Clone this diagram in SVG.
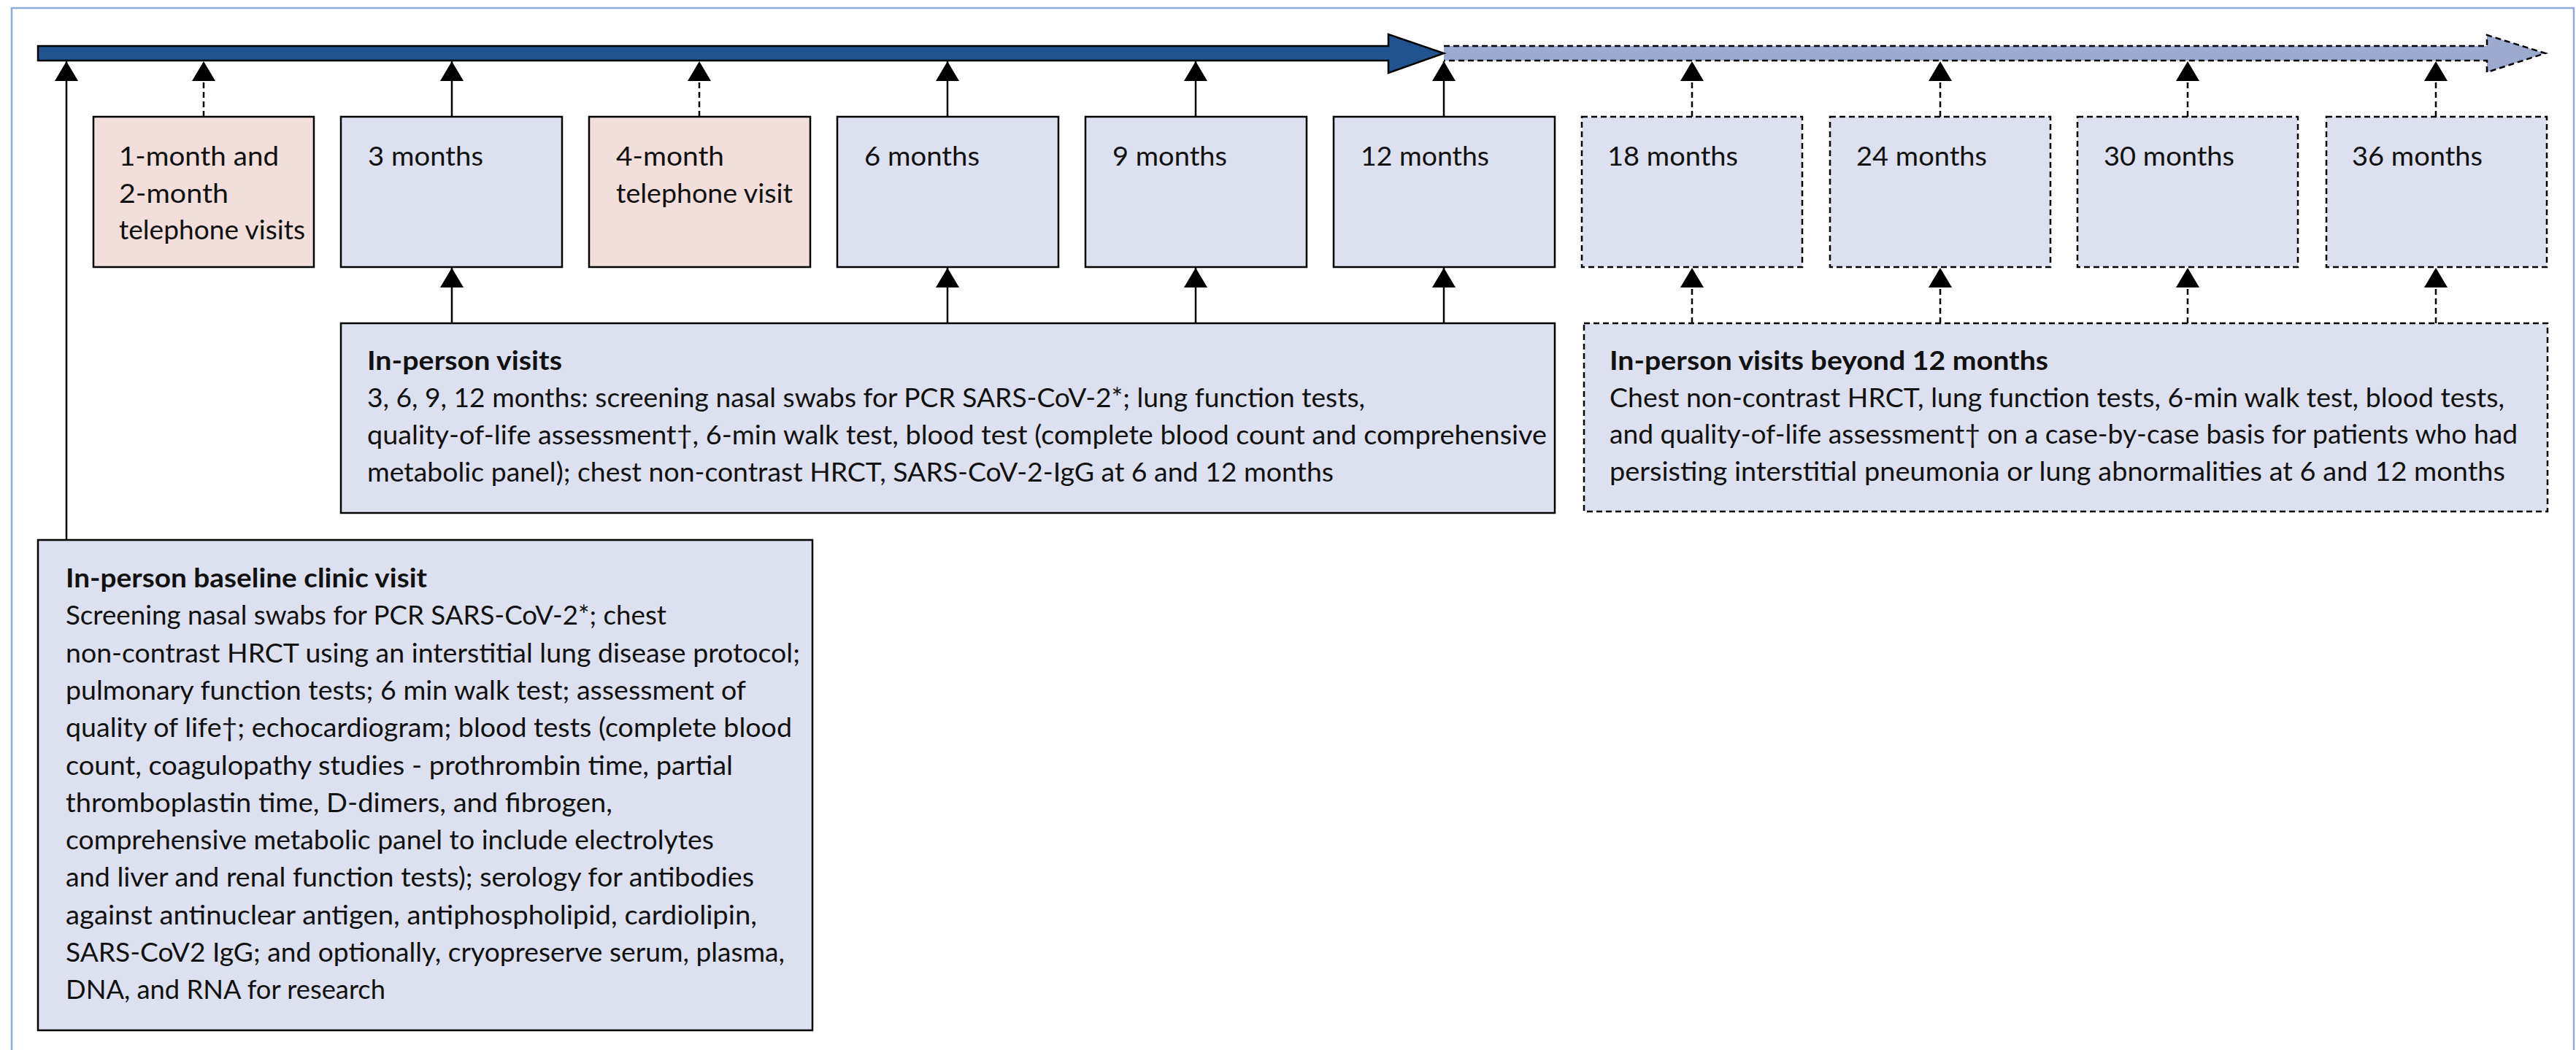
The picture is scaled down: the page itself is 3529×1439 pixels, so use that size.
<svg xmlns="http://www.w3.org/2000/svg" width="3529" height="1439" viewBox="0 0 3529 1439">
<style>
text{font-family:Lato,"Noto Sans","Liberation Sans",sans-serif;font-size:37px;fill:#111}
.b{font-weight:bold}
.box{fill:#dde0ef;stroke:#000;stroke-width:2.5}
.pink{fill:#f2dfdc;stroke:#000;stroke-width:2.5}
.dbox{fill:#dde0ef;stroke:#000;stroke-width:2.5;stroke-dasharray:8 5}
.c{stroke:#000;stroke-width:2.5;fill:none;marker-end:url(#ah)}
.cd{stroke:#000;stroke-width:2.5;fill:none;stroke-dasharray:8 5;marker-end:url(#ah)}
</style>
<defs>
<marker id="ah" viewBox="0 0 27 32" refX="27" refY="16" markerWidth="27" markerHeight="32" markerUnits="userSpaceOnUse" orient="auto"><path d="M0,0 L27,16 L0,32 Z" fill="#000"/></marker>
</defs>
<rect x="0" y="0" width="3529" height="1439" fill="#fff"/>
<rect id="frame" x="16" y="11" width="3510" height="1460" fill="none" stroke="#8eaad8" stroke-width="2.5"/>

<g id="timeline">
<path d="M1978,63 L3407,63 L3407,48 L3487,73 L3407,99 L3407,83 L1978,83" fill="#9daad0" stroke="#000" stroke-width="2.5" stroke-dasharray="8 5"/>
<path d="M52,63 L1902,63 L1902,47 L1978,73 L1902,100 L1902,83 L52,83 Z" fill="#21548f" stroke="#000" stroke-width="2.5" stroke-linejoin="miter"/>
</g>

<g id="connectors">
<line class="c" x1="91" y1="740" x2="91" y2="84"/>
<line class="cd" x1="279" y1="160" x2="279" y2="84"/>
<line class="c" x1="619" y1="160" x2="619" y2="84"/>
<line class="cd" x1="958" y1="160" x2="958" y2="84"/>
<line class="c" x1="1298" y1="160" x2="1298" y2="84"/>
<line class="c" x1="1638" y1="160" x2="1638" y2="84"/>
<line class="c" x1="1978" y1="160" x2="1978" y2="84"/>
<line class="cd" x1="2318" y1="160" x2="2318" y2="84"/>
<line class="cd" x1="2658" y1="160" x2="2658" y2="84"/>
<line class="cd" x1="2997" y1="160" x2="2997" y2="84"/>
<line class="cd" x1="3337" y1="160" x2="3337" y2="84"/>
<line class="c" x1="619" y1="443" x2="619" y2="367"/>
<line class="c" x1="1298" y1="443" x2="1298" y2="367"/>
<line class="c" x1="1638" y1="443" x2="1638" y2="367"/>
<line class="c" x1="1978" y1="443" x2="1978" y2="367"/>
<line class="cd" x1="2318" y1="443" x2="2318" y2="367"/>
<line class="cd" x1="2658" y1="443" x2="2658" y2="367"/>
<line class="cd" x1="2997" y1="443" x2="2997" y2="367"/>
<line class="cd" x1="3337" y1="443" x2="3337" y2="367"/>
</g>

<g id="m1-2">
<rect class="pink" x="128" y="160" width="302" height="206"/>
<text x="163" y="227" textLength="219" lengthAdjust="spacingAndGlyphs">1-month and</text>
<text x="163" y="277.5" textLength="150" lengthAdjust="spacingAndGlyphs">2-month</text>
<text x="163" y="328" textLength="255" lengthAdjust="spacingAndGlyphs">telephone visits</text>
</g>
<g id="m3">
<rect class="box" x="467" y="160" width="303" height="206"/>
<text x="504" y="227" textLength="158" lengthAdjust="spacingAndGlyphs">3 months</text>
</g>
<g id="m4">
<rect class="pink" x="807" y="160" width="303" height="206"/>
<text x="844" y="227" textLength="148" lengthAdjust="spacingAndGlyphs">4-month</text>
<text x="844" y="277.5" textLength="242" lengthAdjust="spacingAndGlyphs">telephone visit</text>
</g>
<g id="m6">
<rect class="box" x="1147" y="160" width="303" height="206"/>
<text x="1184" y="227" textLength="158" lengthAdjust="spacingAndGlyphs">6 months</text>
</g>
<g id="m9">
<rect class="box" x="1487" y="160" width="303" height="206"/>
<text x="1524" y="227" textLength="157" lengthAdjust="spacingAndGlyphs">9 months</text>
</g>
<g id="m12">
<rect class="box" x="1827" y="160" width="303" height="206"/>
<text x="1864" y="227" textLength="176" lengthAdjust="spacingAndGlyphs">12 months</text>
</g>
<g id="m18">
<rect class="dbox" x="2167" y="160" width="302" height="206"/>
<text x="2202" y="227" textLength="179" lengthAdjust="spacingAndGlyphs">18 months</text>
</g>
<g id="m24">
<rect class="dbox" x="2507" y="160" width="302" height="206"/>
<text x="2543" y="227" textLength="179" lengthAdjust="spacingAndGlyphs">24 months</text>
</g>
<g id="m30">
<rect class="dbox" x="2846" y="160" width="302" height="206"/>
<text x="2882" y="227" textLength="179" lengthAdjust="spacingAndGlyphs">30 months</text>
</g>
<g id="m36">
<rect class="dbox" x="3187" y="160" width="302" height="206"/>
<text x="3222" y="227" textLength="179" lengthAdjust="spacingAndGlyphs">36 months</text>
</g>

<g id="inperson">
<rect class="box" x="467" y="443" width="1663" height="260"/>
<text class="b" x="503" y="507" textLength="267" lengthAdjust="spacingAndGlyphs">In-person visits</text>
<text x="503" y="558" textLength="1367" lengthAdjust="spacingAndGlyphs">3, 6, 9, 12 months: screening nasal swabs for PCR SARS-CoV-2*; lung function tests,</text>
<text x="503" y="609" textLength="1616" lengthAdjust="spacingAndGlyphs">quality-of-life assessment†, 6-min walk test, blood test (complete blood count and comprehensive</text>
<text x="503" y="659.5" textLength="1324" lengthAdjust="spacingAndGlyphs">metabolic panel); chest non-contrast HRCT, SARS-CoV-2-IgG at 6 and 12 months</text>
</g>

<g id="beyond">
<rect class="dbox" x="2170" y="443" width="1320" height="258"/>
<text class="b" x="2205" y="507" textLength="601" lengthAdjust="spacingAndGlyphs">In-person visits beyond 12 months</text>
<text x="2205" y="557.5" textLength="1226" lengthAdjust="spacingAndGlyphs">Chest non-contrast HRCT, lung function tests, 6-min walk test, blood tests,</text>
<text x="2205" y="608" textLength="1244" lengthAdjust="spacingAndGlyphs">and quality-of-life assessment† on a case-by-case basis for patients who had</text>
<text x="2205" y="658.5" textLength="1227" lengthAdjust="spacingAndGlyphs">persisting interstitial pneumonia or lung abnormalities at 6 and 12 months</text>
</g>

<g id="baseline">
<rect class="box" x="52" y="740" width="1061" height="672"/>
<text class="b" x="90" y="805" textLength="495" lengthAdjust="spacingAndGlyphs">In-person baseline clinic visit</text>
<text x="90" y="856.3" textLength="823" lengthAdjust="spacingAndGlyphs">Screening nasal swabs for PCR SARS-CoV-2*; chest</text>
<text x="90" y="907.6" textLength="1006" lengthAdjust="spacingAndGlyphs">non-contrast HRCT using an interstitial lung disease protocol;</text>
<text x="90" y="958.9" textLength="932" lengthAdjust="spacingAndGlyphs">pulmonary function tests; 6 min walk test; assessment of</text>
<text x="90" y="1010.2" textLength="995" lengthAdjust="spacingAndGlyphs">quality of life†; echocardiogram; blood tests (complete blood</text>
<text x="90" y="1061.5" textLength="914" lengthAdjust="spacingAndGlyphs">count, coagulopathy studies - prothrombin time, partial</text>
<text x="90" y="1112.8" textLength="749" lengthAdjust="spacingAndGlyphs">thromboplastin time, D-dimers, and fibrogen,</text>
<text x="90" y="1164.1" textLength="888" lengthAdjust="spacingAndGlyphs">comprehensive metabolic panel to include electrolytes</text>
<text x="90" y="1215.4" textLength="943" lengthAdjust="spacingAndGlyphs">and liver and renal function tests); serology for antibodies</text>
<text x="90" y="1266.7" textLength="947" lengthAdjust="spacingAndGlyphs">against antinuclear antigen, antiphospholipid, cardiolipin,</text>
<text x="90" y="1318" textLength="985" lengthAdjust="spacingAndGlyphs">SARS-CoV2 IgG; and optionally, cryopreserve serum, plasma,</text>
<text x="90" y="1369.3" textLength="438" lengthAdjust="spacingAndGlyphs">DNA, and RNA for research</text>
</g>
</svg>
